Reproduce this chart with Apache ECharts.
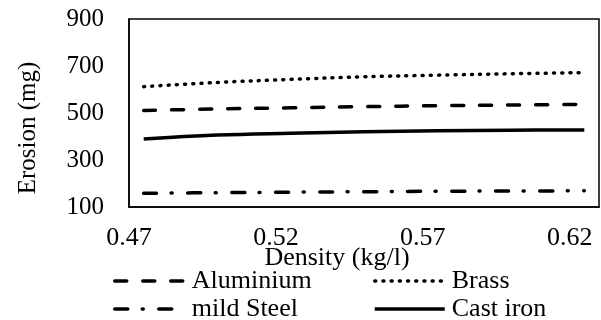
<!DOCTYPE html>
<html><head><meta charset="utf-8">
<script src="https://cdn.jsdelivr.net/npm/echarts@6/dist/echarts.min.js"></script>
<style>html,body{margin:0;padding:0;background:#fff}#c{width:601px;height:320px}</style>
</head><body><div id="c"></div>
<script>
const density = [0.475, 0.5, 0.525, 0.55, 0.575, 0.6, 0.625];
const aluminium = [511, 517, 522, 527, 531, 534, 537];
const brass = [612, 630, 643, 654, 661, 667, 672];
const mildSteel = [158, 161, 163, 165, 167, 168, 169];
const castIron = [389, 406, 414, 420, 424, 427, 428];
const xTicks = [0.47, 0.52, 0.57, 0.62];
const yTicks = [100, 300, 500, 700, 900];
const seriesNames = ['Aluminium', 'Brass', 'mild Steel', 'Cast iron'];

const font = 'Liberation Serif, Times New Roman, serif';
const pair = (xs, ys) => xs.map((x, i) => [x, ys[i]]);
const styles = [
  {color: '#000', width: 3.5, type: [12, 16], cap: 'round'},
  {color: '#000', width: 3.5, type: [1, 7.2], cap: 'round'},
  {color: '#000', width: 3.5, type: [13, 14.5, 1, 15.5], cap: 'round'},
  {color: '#000', width: 3.5, type: 'solid'}
];
const chart = echarts.init(document.getElementById('c'));
const legendItem = (i, left, top) => ({
  data: [seriesNames[i]], left: left, top: top, itemWidth: 70, itemHeight: 20, itemGap: 0,
  padding: 0,
  itemStyle: {opacity: 0},
  lineStyle: Object.assign({}, styles[i]),
  textStyle: {fontFamily: font, fontSize: 26, color: '#000', padding: [0, 0, 0, 2]}
});
chart.setOption({
  animation: false,
  backgroundColor: '#fff',
  color: ['#000', '#000', '#000', '#000'],
  grid: {left: 129, right: 2, top: 19, bottom: 113, show: true, borderColor: '#000', borderWidth: 1.5},
  xAxis: {
    type: 'value', min: 0.47, max: 0.63,
    name: 'Density (kg/l)', nameLocation: 'middle', nameGap: 38, nameMoveOverlap: false,
    nameTextStyle: {fontFamily: font, fontSize: 26, color: '#000', padding: [0, 54, 0, 0]},
    axisLine: {show: true, lineStyle: {color: '#000', width: 1.5}},
    axisTick: {show: false},
    splitLine: {show: false},
    axisLabel: {customValues: xTicks, fontFamily: font, fontSize: 26, color: '#000', margin: 18,
      formatter: v => v.toFixed(2)}
  },
  yAxis: {
    type: 'value', min: 100, max: 900,
    name: 'Erosion (mg)', nameLocation: 'middle', nameGap: 88,
    nameTextStyle: {fontFamily: font, fontSize: 25, color: '#000', padding: [0, 30, 0, 0]},
    axisLine: {show: true, lineStyle: {color: '#000', width: 1.5}},
    axisTick: {show: false},
    splitLine: {show: false},
    axisLabel: {customValues: yTicks, fontFamily: font, fontSize: 25, color: '#000', margin: 25}
  },
  legend: [
    legendItem(0, 113, 268),
    legendItem(1, 373, 268),
    legendItem(2, 113, 296),
    legendItem(3, 373, 296)
  ],
  series: seriesNames.map((n, i) => ({
    name: n, type: 'line', smooth: 0.4, symbol: 'none',
    data: pair(density, [aluminium, brass, mildSteel, castIron][i]),
    itemStyle: {color: '#000'},
    lineStyle: styles[i]
  }))
});
</script></body></html>
